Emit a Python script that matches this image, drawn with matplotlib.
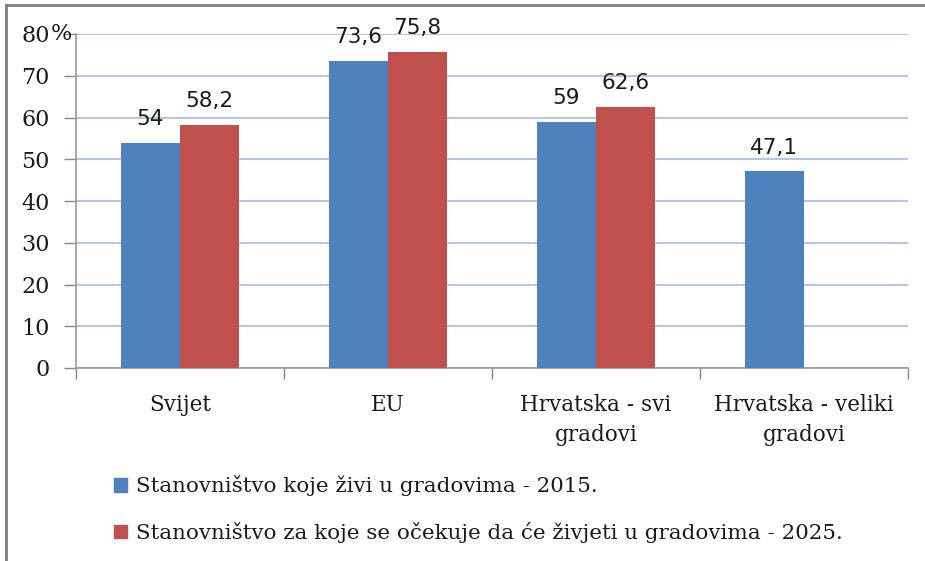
import numpy as np
import matplotlib.pyplot as plt
from matplotlib.lines import Line2D
from matplotlib.patches import Patch

categories = ["Svijet", "EU", "Hrvatska - svi\ngradovi", "Hrvatska - veliki\ngradovi"]
urban_2015 = [54, 73.6, 59, 47.1]
urban_2025 = [58.2, 75.8, 62.6, np.nan]
labels_2015 = ["54", "73,6", "59", "47,1"]
labels_2025 = ["58,2", "75,8", "62,6", ""]
series_names = ["Stanovništvo koje živi u gradovima - 2015.",
                "Stanovništvo za koje se očekuje da će živjeti u gradovima - 2025."]
yticks = [0, 10, 20, 30, 40, 50, 60, 70, 80]
ytick_labels = ["0", "10", "20", "30", "40", "50", "60", "70", "80"]

blue = "#4f81bd"
red = "#c0504d"
serif = ["DejaVu Serif"]
txt = "#1a1a1a"

W, H = 925, 561
fig = plt.figure(figsize=(W / 100, H / 100), dpi=100)
ax = fig.add_axes([76 / W, 1 - 368 / H, 832 / W, 334 / H])

x = np.arange(len(categories))
w = 0.285
ax.bar(x - w / 2, urban_2015, w, color=blue, zorder=3)
ax.bar(x + w / 2, urban_2025, w, color=red, zorder=3)

for xi, v, s in zip(x, urban_2015, labels_2015):
    ax.text(xi - w / 2, v + 3.3, s, ha="center", va="bottom", fontsize=15.5, color=txt)
for xi, v, s in zip(x, urban_2025, labels_2025):
    if s:
        ax.text(xi + w / 2, v + 3.3, s, ha="center", va="bottom", fontsize=15.5, color=txt)

ax.set_xlim(-0.5, len(categories) - 0.5)
ax.set_ylim(0, 80)
ax.set_yticks(yticks)
ax.set_yticklabels(ytick_labels, fontsize=16, family=serif, color=txt)
# percent sign sits to the right of the top label, as in the original
ax.text(-15 / 832, 1.0, "%", transform=ax.transAxes, ha="center", va="center",
        fontsize=16, family=serif, color=txt)
ax.yaxis.grid(True, color="#b4c7ea", lw=1.5, zorder=0)
ax.set_axisbelow(True)

ax.set_xticks(x)
ax.set_xticklabels(categories, fontsize=15.5, family=serif, linespacing=1.45, color=txt)
ax.tick_params(axis="x", length=0, pad=19)
# category boundary ticks
ax.set_xticks(np.arange(len(categories) + 1) - 0.5, minor=True)
ax.tick_params(axis="x", which="minor", length=8, color="#888888", width=1)
ax.tick_params(axis="y", length=9, color="#888888", width=1, pad=10)

for side in ["top", "right"]:
    ax.spines[side].set_visible(False)
for side in ["left", "bottom"]:
    ax.spines[side].set_color("#999999")
    ax.spines[side].set_linewidth(1.2)

# legend
handles = [Patch(color=blue), Patch(color=red)]
fig.legend(handles, series_names, loc="upper left", bbox_to_anchor=(95 / W, 1 - 456 / H),
           frameon=False, prop={"family": serif, "size": 15.4},
           handlelength=0.6, handleheight=0.6, handletextpad=0.4, labelspacing=1.2,
           labelcolor=txt)

# outer frame of the chart
fig.add_artist(Line2D([6 / W, 6 / W], [0, 1 - 5 / H], transform=fig.transFigure, color="#7f7f7f", lw=2))
fig.add_artist(Line2D([6 / W, 1], [1 - 5 / H, 1 - 5 / H], transform=fig.transFigure, color="#7f7f7f", lw=2))

fig.savefig("out.png", dpi=100)
